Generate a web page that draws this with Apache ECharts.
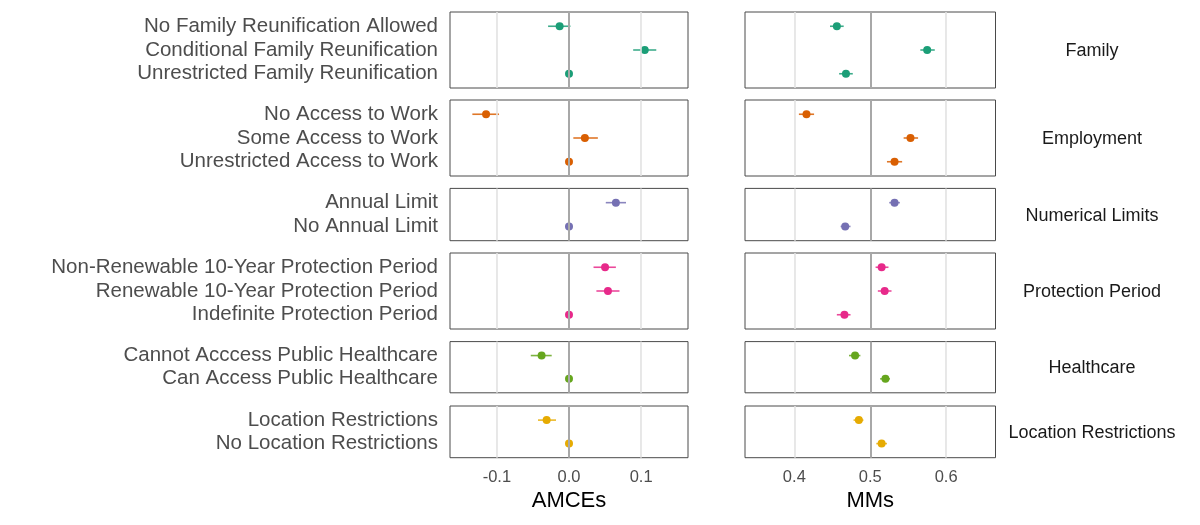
<!DOCTYPE html>
<html>
<head>
<meta charset="utf-8">
<script src="https://cdn.jsdelivr.net/npm/echarts@6/dist/echarts.min.js"></script>
<style>
  html, body { margin: 0; padding: 0; background: #ffffff; }
  #chart { width: 1200px; height: 525px; }
</style>
</head>
<body>
<div id="chart"></div>
<script>
// ---------------- data ----------------
const facets = ['Family', 'Employment', 'Numerical Limits', 'Protection Period', 'Healthcare', 'Location Restrictions'];
const levels = [
  ['No Family Reunification Allowed', 'Conditional Family Reunification', 'Unrestricted Family Reunification'],
  ['No Access to Work', 'Some Access to Work', 'Unrestricted Access to Work'],
  ['Annual Limit', 'No Annual Limit'],
  ['Non-Renewable 10-Year Protection Period', 'Renewable 10-Year Protection Period', 'Indefinite Protection Period'],
  ['Cannot Acccess Public Healthcare', 'Can Access Public Healthcare'],
  ['Location Restrictions', 'No Location Restrictions']
];
// AMCEs
const amceEst = [[-0.013, 0.105, 0], [-0.115, 0.022, 0], [0.065, 0], [0.050, 0.054, 0], [-0.038, 0], [-0.031, 0]];
const amceLo  = [[-0.029, 0.089, 0], [-0.134, 0.006, 0], [0.051, 0], [0.034, 0.038, 0], [-0.053, 0], [-0.043, 0]];
const amceHi  = [[0.002, 0.121, 0], [-0.097, 0.040, 0], [0.079, 0], [0.065, 0.070, 0], [-0.024, 0], [-0.018, 0]];
// Marginal means
const mmEst = [[0.456, 0.575, 0.468], [0.416, 0.553, 0.532], [0.532, 0.467], [0.515, 0.519, 0.466], [0.480, 0.520], [0.485, 0.515]];
const mmLo  = [[0.447, 0.566, 0.459], [0.406, 0.544, 0.522], [0.525, 0.461], [0.507, 0.510, 0.456], [0.472, 0.513], [0.478, 0.508]];
const mmHi  = [[0.465, 0.585, 0.477], [0.426, 0.563, 0.542], [0.539, 0.474], [0.524, 0.528, 0.474], [0.487, 0.526], [0.491, 0.522]];
const amceTicks = [-0.1, 0, 0.1];
const mmTicks = [0.4, 0.5, 0.6];
const colors = ['#1B9E77', '#D95F02', '#7570B3', '#E7298A', '#66A61E', '#E6AB02'];

// ---------------- layout ----------------
const rowTop = [12, 100, 188.4, 253, 341.6, 406];
const rowH   = [76, 76, 52.3, 76, 51.2, 51.7];
const panels = [
  { left: 450, width: 238, min: -0.165, max: 0.165, ticks: amceTicks, ref: 0, est: amceEst, lo: amceLo, hi: amceHi, name: 'AMCEs' },
  { left: 745, width: 250.5, min: 0.335, max: 0.665, ticks: mmTicks, ref: 0.5, est: mmEst, lo: mmLo, hi: mmHi, name: 'MMs' }
];
const FONT = 'Liberation Sans, Arial, Helvetica, sans-serif';

const grid = [], xAxis = [], yAxis = [], series = [];
const nRows = facets.length;

facets.forEach((f, r) => {
  const n = levels[r].length;
  panels.forEach((p, c) => {
    const gi = grid.length;
    grid.push({ left: p.left, top: rowTop[r], width: p.width, height: rowH[r], show: true, borderColor: '#4a4a4a', borderWidth: 1, backgroundColor: '#ffffff' });
    const isBottom = r === nRows - 1;
    xAxis.push({
      type: 'value', gridIndex: gi, min: p.min, max: p.max,
      axisLine: { show: false }, axisTick: { show: false }, splitLine: { show: false },
      axisLabel: {
        show: isBottom, customValues: p.ticks, margin: 11,
        formatter: v => v.toFixed(1), fontFamily: FONT, fontSize: 16.5, color: '#4d4d4d'
      },
      name: isBottom ? p.name : '', nameLocation: 'middle', nameGap: 32,
      nameTextStyle: { fontFamily: FONT, fontSize: 22, color: '#000000' }
    });
    yAxis.push({
      type: 'value', gridIndex: gi, min: -0.6, max: n - 1 + 0.6, inverse: true,
      axisLine: { show: false }, axisTick: { show: false }, splitLine: { show: false },
      axisLabel: {
        show: c === 0, customValues: levels[r].map((_, i) => i), margin: 12,
        formatter: v => levels[r][Math.round(v)] || '', fontFamily: FONT, fontSize: 20.5, color: '#4d4d4d'
      }
    });
    // grid lines
    series.push({
      type: 'scatter', xAxisIndex: gi, yAxisIndex: gi, data: [], silent: true, z: 1,
      markLine: {
        silent: true, symbol: 'none', label: { show: false }, animation: false,
        data: p.ticks.map(t => ({
          xAxis: t,
          lineStyle: t === p.ref ? { color: '#a8a8a8', width: 2, type: 'solid' } : { color: '#e2e2e2', width: 1.6, type: 'solid' }
        }))
      }
    });
    // error bars
    const ebData = levels[r].map((_, i) => [p.lo[r][i], p.hi[r][i], i]);
    series.push({
      type: 'custom', xAxisIndex: gi, yAxisIndex: gi, z: 2, silent: true,
      data: ebData,
      renderItem: (params, api) => {
        const a = api.coord([api.value(0), api.value(2)]);
        const b = api.coord([api.value(1), api.value(2)]);
        return { type: 'line', shape: { x1: a[0], y1: a[1], x2: b[0], y2: b[1] }, style: { stroke: colors[r], lineWidth: 1.6, opacity: 0.85 } };
      }
    });
    // points
    series.push({
      type: 'scatter', xAxisIndex: gi, yAxisIndex: gi, z: 3, silent: true,
      symbol: 'circle', symbolSize: 8,
      itemStyle: { color: colors[r], opacity: 1 },
      data: levels[r].map((_, i) => [p.est[r][i], i])
    });
  });
});

// facet strip labels on the right
const graphicAbs = facets.map((f, r) => ({
  type: 'text', x: 1092, y: rowTop[r] + rowH[r] / 2 + 1, silent: true,
  style: { text: f, fontFamily: FONT, fontSize: 18, fill: '#1a1a1a', align: 'center', verticalAlign: 'middle' }
}));

const chart = echarts.init(document.getElementById('chart'), null, { renderer: 'canvas' });
chart.setOption({
  animation: false,
  backgroundColor: '#ffffff',
  grid, xAxis, yAxis, series,
  graphic: graphicAbs
});
</script>
</body>
</html>
